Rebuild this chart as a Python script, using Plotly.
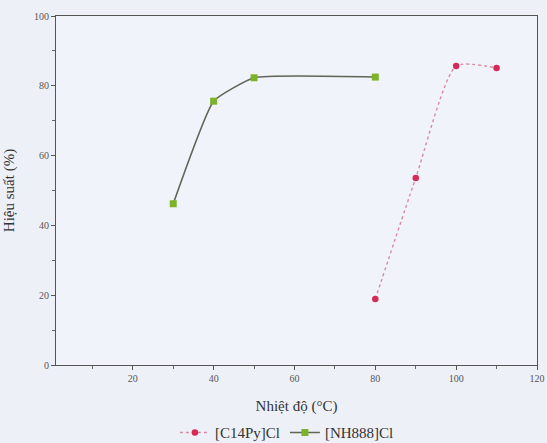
import plotly.graph_objects as go

temp_c14 = [80, 90, 100, 110]
yield_c14 = [18.9, 53.6, 85.7, 85.1]
temp_nh = [30, 40, 50, 80]
yield_nh = [46.2, 75.6, 82.3, 82.5]

fig = go.Figure()
fig.add_trace(go.Scatter(
    x=temp_c14, y=yield_c14, name="[C14Py]Cl", mode="lines+markers",
    line=dict(color="#d98aa3", width=1.4, dash="dot", shape="spline", smoothing=0.6),
    marker=dict(color="#d42a55", size=6.5, symbol="circle"),
))
fig.add_trace(go.Scatter(
    x=temp_nh, y=yield_nh, name="[NH888]Cl", mode="lines+markers",
    line=dict(color="#5f6656", width=1.6, shape="spline", smoothing=0.4),
    marker=dict(color="#7cb32a", size=7, symbol="square"),
))

axis_common = dict(
    showgrid=False, zeroline=False, showline=True, linecolor="#555", linewidth=1.2,
    mirror=True, ticks="outside", ticklen=4, tickcolor="#555", automargin=False,
    tickfont=dict(family="Liberation Serif", size=10, color="#555"),
    minor=dict(ticks="outside", ticklen=3, tickcolor="#666", dtick=10),
)
fig.update_xaxes(range=[1, 120], dtick=20, tick0=0,
                 title=dict(text="Nhiệt độ (°C)", font=dict(family="Liberation Serif", size=15, color="#333"), standoff=17),
                 **axis_common)
fig.update_yaxes(range=[0, 100], dtick=20, tick0=0,
                 title=dict(text="Hiệu suất (%)", font=dict(family="Liberation Serif", size=15, color="#333"), standoff=15),
                 **axis_common)

fig.update_layout(
    width=547, height=443,
    margin=dict(l=56, r=10, t=16, b=78),
    paper_bgcolor="#eef0f7", plot_bgcolor="#f1f3fa",
    font=dict(family="Liberation Serif", color="#333"),
    legend=dict(orientation="h", x=0.48, xanchor="center", xref="paper",
                y=0.023, yanchor="middle", yref="container",
                font=dict(family="Liberation Serif", size=15, color="#333"),
                bgcolor="rgba(0,0,0,0)", itemwidth=30, tracegroupgap=0),
    showlegend=True,
)
fig.write_html("out.html", config={"displayModeBar": False},
               post_script="document.body.style.margin='0';document.body.style.background='#eef0f7';")
